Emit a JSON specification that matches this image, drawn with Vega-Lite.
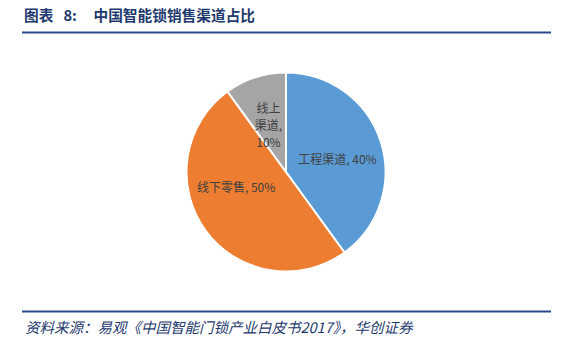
{
  "$schema": "https://vega.github.io/schema/vega-lite/v6.json",
  "width": 564,
  "height": 344,
  "autosize": {"type": "none"},
  "padding": {"left": 4, "top": 0, "right": 0, "bottom": 0},
  "background": "white",
  "config": {"view": {"stroke": null}, "font": "Noto Sans CJK SC"},
  "layer": [
    {
      "data": {
        "values": [
          {"idx": 1, "category": "工程渠道", "value": 40, "label": "工程渠道, 40%"},
          {"idx": 2, "category": "线下零售", "value": 50, "label": "线下零售, 50%"},
          {"idx": 3, "category": "线上渠道", "value": 10, "label": "线上\n渠道,\n10%"}
        ]
      },
      "encoding": {
        "theta": {"field": "value", "type": "quantitative", "stack": true},
        "order": {"field": "idx", "type": "quantitative"}
      },
      "layer": [
        {
          "mark": {"type": "arc", "outerRadius": 99.5, "stroke": "white", "strokeWidth": 2},
          "encoding": {
            "color": {
              "field": "category",
              "type": "nominal",
              "scale": {"domain": ["工程渠道", "线下零售", "线上渠道"], "range": ["#5B9BD5", "#ED7D31", "#A5A5A5"]},
              "legend": null
            }
          }
        },
        {
          "mark": {"type": "text", "radius": 53, "dx": 1, "dy": 4, "fontSize": 12, "color": "#404040", "align": "center", "baseline": "middle"},
          "encoding": {
            "text": {"condition": {"test": "datum.category === '工程渠道'", "field": "label"}, "value": ""}
          }
        },
        {
          "mark": {"type": "text", "radius": 53, "dx": -7, "dy": -15, "fontSize": 12, "color": "#404040", "align": "center", "baseline": "middle"},
          "encoding": {
            "text": {"condition": {"test": "datum.category === '线下零售'", "field": "label"}, "value": ""}
          }
        },
        {
          "mark": {"type": "text", "radius": 65, "dx": 2.5, "dy": -1, "fontSize": 12, "lineHeight": 17, "lineBreak": "\n", "color": "#404040", "align": "center", "baseline": "middle"},
          "encoding": {
            "text": {"condition": {"test": "datum.category === '线上渠道'", "field": "label"}, "value": ""}
          }
        }
      ]
    },
    {
      "data": {"values": [{}]},
      "mark": {"type": "text", "text": "图表\u00a0\u00a0\u00a08:\u00a0\u00a0\u00a0\u00a0\u00a0中国智能锁销售渠道占比", "align": "left", "baseline": "middle", "fontSize": 14.7, "fontWeight": "bold", "color": "#1F3A6E"},
      "encoding": {"x": {"value": 20}, "y": {"value": 17}}
    },
    {
      "data": {"values": [{}]},
      "mark": {"type": "rule", "strokeWidth": 2, "color": "#2A4B8D"},
      "encoding": {"x": {"value": 18}, "x2": {"value": 547}, "y": {"value": 32.5}, "y2": {"value": 32.5}}
    },
    {
      "data": {"values": [{}]},
      "mark": {"type": "rule", "strokeWidth": 2, "color": "#2A4B8D"},
      "encoding": {"x": {"value": 18}, "x2": {"value": 547}, "y": {"value": 311.5}, "y2": {"value": 311.5}}
    },
    {
      "data": {"values": [{}]},
      "mark": {"type": "text", "text": "资料来源：易观《中国智能门锁产业白皮书2017》，华创证券", "align": "left", "baseline": "middle", "fontSize": 14.5, "fontStyle": "italic", "color": "#1F3A6E"},
      "encoding": {"x": {"value": 21}, "y": {"value": 329}}
    }
  ]
}
